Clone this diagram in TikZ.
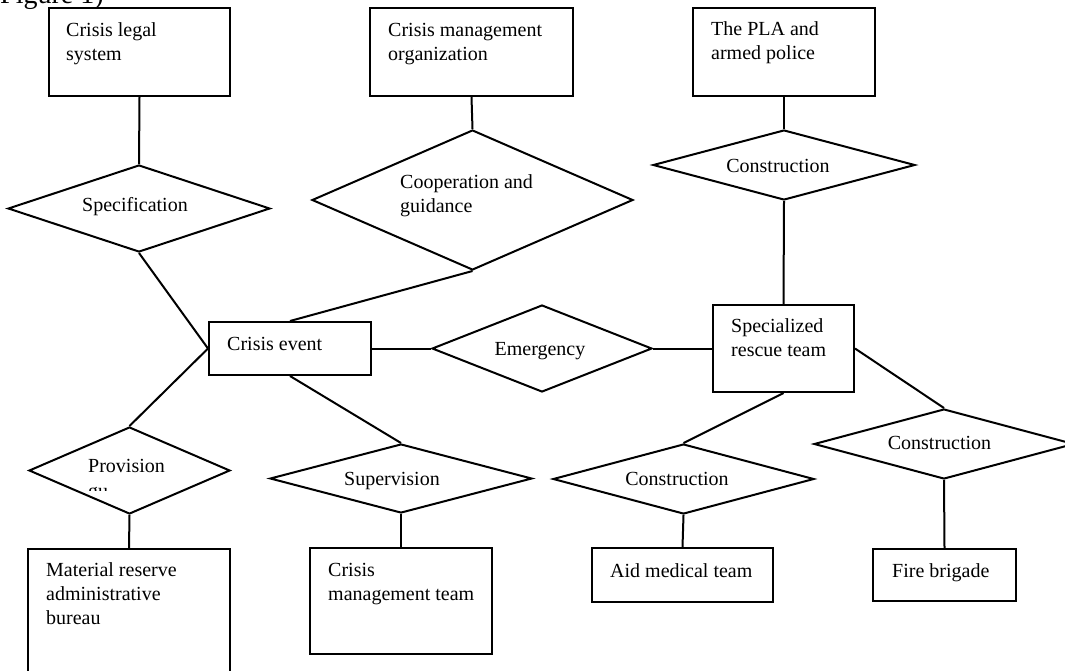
\documentclass[tikz,border=0pt]{standalone}
\usepackage{fontspec}
\setmainfont{Liberation Serif}
\usetikzlibrary{shapes.geometric}
\tikzset{
  box/.style={draw, line width=2pt, rectangle, inner sep=0pt},
  dia/.style={draw, line width=2pt, diamond, inner sep=0pt},
  txt/.style={inner sep=0pt, align=left, font=\fontsize{20}{24}\selectfont},
  conn/.style={line width=2pt},
}
\begin{document}
\begin{tikzpicture}[x=1pt, y=-1pt]
\useasboundingbox (0,0) rectangle (1065,670);
\fill[white] (0,0) rectangle (1065,670);

% caption fragment
\node[inner sep=0pt, anchor=base west, font=\fontsize{28}{30}\selectfont] (fig) at (0,3) {Figure 1)};

% boxes (multi-line texts: base anchor = baseline of last line)
\node[box, fill=white, minimum width=181pt, minimum height=88pt] (legal) at (139.5,52) {};
\node[txt, anchor=base west] (legalT) at (66,60) {Crisis legal\\system};

\node[box, fill=white, minimum width=203pt, minimum height=88pt] (org) at (471.5,52) {};
\node[txt, anchor=base west] (orgT) at (388,60) {Crisis management\\organization};

\node[box, fill=white, minimum width=182pt, minimum height=88pt] (pla) at (784,52) {};
\node[txt, anchor=base west] (plaT) at (711,59) {The PLA and\\armed police};

\node[box, minimum width=162pt, minimum height=53pt] (event) at (290,348.5) {};
\node[txt, anchor=base west] (eventT) at (227,350) {Crisis event};

\node[box, minimum width=141pt, minimum height=87pt] (team) at (783.5,348.5) {};
\node[txt, anchor=base west] (teamT) at (731,356) {Specialized\\rescue team};

\node[box, minimum width=202pt, minimum height=141pt] (mat) at (129,619.5) {};
\node[txt, anchor=base west] (matT) at (46,624) {Material reserve\\administrative\\bureau};

\node[box, minimum width=182pt, minimum height=106pt] (cmt) at (401,601) {};
\node[txt, anchor=base west] (cmtT) at (328,600) {Crisis\\management team};

\node[box, minimum width=181pt, minimum height=54pt] (aid) at (682.5,575) {};
\node[txt, anchor=base west] (aidT) at (610,577) {Aid medical team};

\node[box, minimum width=143pt, minimum height=52pt] (fire) at (944.5,575) {};
\node[txt, anchor=base west] (fireT) at (892,577) {Fire brigade};

% diamonds
\node[dia, minimum width=262pt, minimum height=87pt] (spec) at (139,208.5) {};
\node[txt, anchor=base] (specT) at (135,211) {Specification};

\node[dia, minimum width=321pt, minimum height=140pt] (coop) at (472.5,200) {};
\node[txt, anchor=base west] (coopT) at (400,212) {Cooperation and\\guidance};

\node[dia, minimum width=262pt, minimum height=70pt] (cA) at (784,165) {};
\node[txt, anchor=base] (cAT) at (778,172) {Construction};

\node[dia, minimum width=220pt, minimum height=87pt] (emer) at (542,348.5) {};
\node[txt, anchor=base] (emerT) at (540,355) {Emergency};

\node[dia, minimum width=201pt, minimum height=87pt] (prov) at (129.5,470.5) {};
\node[txt, anchor=base west] (provT) at (88,472) {Provision};
\begin{scope}
  \clip (80,480) rectangle (108,490);
  \node[txt, anchor=base west] (provT2) at (88,497) {guarantee};
\end{scope}

\node[dia, minimum width=262pt, minimum height=69pt] (sup) at (401,478.5) {};
\node[txt, anchor=base] (supT) at (392,485) {Supervision};

\node[dia, minimum width=261pt, minimum height=70pt] (cB) at (683.5,479) {};
\node[txt, anchor=base] (cBT) at (677,485) {Construction};

\node[dia, minimum width=260pt, minimum height=70pt] (cC) at (944,444) {};
\node[txt, anchor=base] (cCT) at (939.5,449) {Construction};

% connectors
\draw[conn] (legal.south) -- (spec.north);
\draw[conn] (org.south) -- (coop.north);
\draw[conn] (pla.south) -- (cA.north);
\draw[conn] (spec.south) -- (event.west);
\draw[conn] (coop.south) -- (event.north);
\draw[conn] (event.west) -- (prov.north);
\draw[conn] (event.south) -- (sup.north);
\draw[conn] (event.east) -- (emer.west);
\draw[conn] (emer.east) -- (team.west);
\draw[conn] (cA.south) -- (team.north);
\draw[conn] (team.south) -- (cB.north);
\draw[conn] (team.east) -- (cC.north);
\draw[conn] (cC.south) -- (fire.north);
\draw[conn] (cB.south) -- (aid.north);
\draw[conn] (sup.south) -- (cmt.north);
\draw[conn] (prov.south) -- (mat.north);
\end{tikzpicture}
\end{document}
